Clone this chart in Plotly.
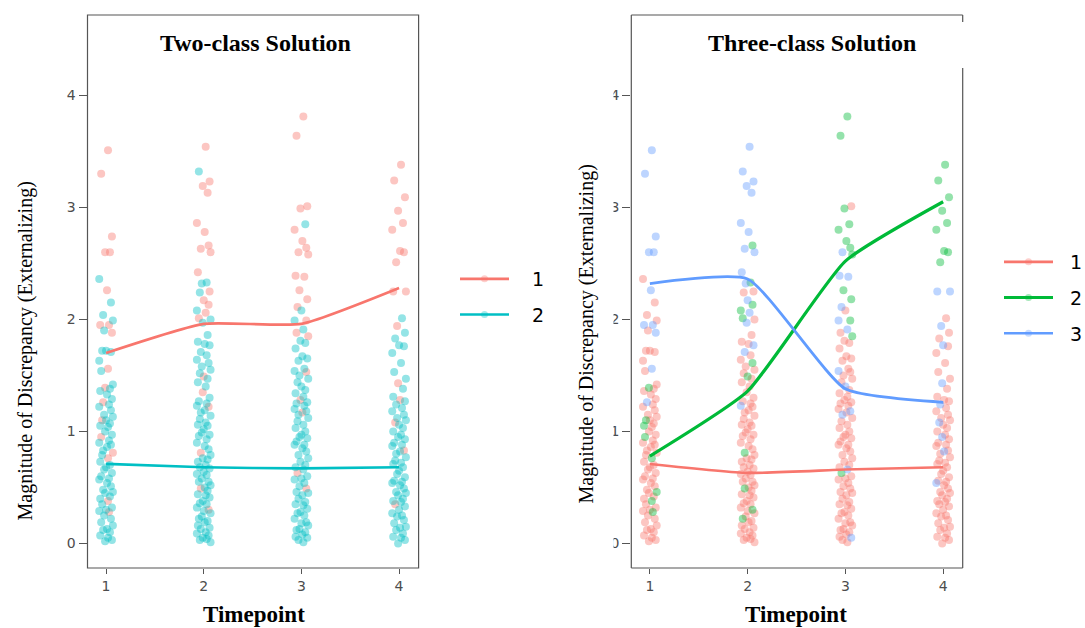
import plotly.graph_objects as go

W, H = 1085, 628

# ---------------- data ----------------
TIMEPOINTS = [1, 2, 3, 4]
Y_TICKS = [0, 1, 2, 3, 4]
Y_TICK_LABELS = ["0", "1", "2", "3", "4"]
X_TICK_LABELS = ["1", "2", "3", "4"]

# individual observations per timepoint: (discrepancy, class in 2-class solution, class in 3-class solution)
T1 = [(3.51,1,3),(3.30,1,3),(2.74,1,3),(2.60,1,3),(2.60,1,3),(2.36,2,1),(2.26,1,3),(2.15,2,1),(2.04,2,1),(1.99,2,1),
      (1.95,1,3),(1.95,1,3),(1.90,2,1),(1.88,1,3),(1.72,2,1),(1.72,2,1),(1.71,2,1),(1.63,2,1),(1.56,1,3),(1.54,2,1),
      (1.42,2,1),(1.39,1,2),(1.38,2,1),(1.36,2,1),(1.33,2,1),(1.29,2,1),(1.26,1,3),(1.24,2,1),(1.22,2,1),(1.19,2,1),
      (1.15,2,1),(1.13,2,1),(1.10,1,2),(1.10,2,1),(1.07,2,1),(1.05,2,2),(1.04,2,1),(1.00,2,1),(0.97,2,1),(0.95,1,2),
      (0.92,2,1),(0.90,2,1),(0.88,2,1),(0.86,2,1),(0.83,2,1),(0.81,1,1),(0.79,2,1),(0.76,1,2),(0.73,2,1),(0.70,2,1),
      (0.68,2,1),(0.66,2,1),(0.63,2,1),(0.60,2,1),(0.58,2,1),(0.57,2,1),(0.54,2,1),(0.51,2,1),(0.48,2,1),(0.46,2,2),
      (0.45,2,1),(0.42,2,1),(0.40,2,1),(0.38,1,2),(0.35,2,1),(0.32,2,1),(0.30,2,1),(0.29,2,1),(0.28,1,2),(0.25,2,1),
      (0.22,2,1),(0.19,2,1),(0.16,2,1),(0.13,2,1),(0.12,2,1),(0.10,2,1),(0.07,2,1),(0.05,2,1),(0.03,2,1),(0.02,2,1)]
T2 = [(3.54,1,3),(3.32,2,3),(3.23,1,3),(3.19,1,3),(3.13,1,3),(2.86,1,3),(2.78,1,3),(2.66,1,2),(2.63,1,3),(2.60,1,3),
      (2.42,1,3),(2.33,2,2),(2.32,2,3),(2.25,1,1),(2.24,2,1),(2.17,1,3),(2.13,1,2),(2.08,2,2),(2.06,1,3),(2.01,1,2),
      (2.00,2,1),(1.97,2,3),(1.86,2,1),(1.80,2,1),(1.78,2,1),(1.77,2,3),(1.71,2,3),(1.68,2,1),(1.64,2,1),(1.61,2,2),
      (1.58,2,1),(1.55,2,1),(1.52,2,1),(1.49,1,2),(1.47,2,1),(1.44,2,1),(1.40,2,1),(1.35,1,1),(1.30,2,1),(1.27,2,1),
      (1.25,2,1),(1.23,2,3),(1.22,1,1),(1.19,2,1),(1.17,2,1),(1.14,2,1),(1.11,2,1),(1.08,2,1),(1.06,2,1),(1.05,2,1),
      (1.02,2,1),(0.99,2,1),(0.97,2,1),(0.96,2,1),(0.93,2,1),(0.90,2,1),(0.87,2,1),(0.84,2,1),(0.81,1,2),(0.79,2,1),
      (0.76,2,1),(0.75,2,1),(0.73,2,1),(0.70,2,1),(0.68,2,1),(0.67,2,1),(0.64,2,1),(0.62,2,1),(0.61,2,1),(0.58,2,1),
      (0.55,2,1),(0.55,2,1),(0.52,2,1),(0.50,2,1),(0.49,1,2),(0.47,2,1),(0.44,2,1),(0.43,2,1),(0.41,2,1),(0.38,2,1),
      (0.36,2,1),(0.35,2,1),(0.32,2,1),(0.30,1,2),(0.29,2,1),(0.27,2,1),(0.24,2,1),(0.22,2,2),(0.20,2,1),(0.19,2,1),
      (0.16,2,1),(0.14,2,1),(0.13,2,1),(0.10,2,1),(0.09,2,1),(0.07,2,1),(0.05,2,1),(0.04,2,1),(0.03,2,1),(0.01,2,1)]
T3 = [(3.81,1,2),(3.64,1,2),(3.01,1,1),(2.99,1,2),(2.85,2,2),(2.80,1,2),(2.70,1,2),(2.64,1,2),(2.60,1,3),(2.58,1,2),
      (2.39,1,3),(2.38,1,3),(2.26,1,2),(2.18,1,2),(2.11,1,3),(2.08,2,1),(1.99,1,2),(1.99,2,3),(1.91,2,3),(1.88,1,1),
      (1.85,1,2),(1.81,2,1),(1.79,2,1),(1.74,2,1),(1.67,2,1),(1.65,2,1),(1.63,2,1),(1.56,2,1),(1.54,2,3),(1.53,1,1),
      (1.50,2,1),(1.47,2,1),(1.44,2,1),(1.40,2,3),(1.37,2,1),(1.34,2,1),(1.31,2,1),(1.28,1,1),(1.26,2,1),(1.25,2,1),
      (1.23,2,1),(1.20,2,1),(1.18,2,3),(1.17,1,1),(1.15,2,3),(1.12,2,1),(1.09,2,1),(1.06,2,1),(1.03,2,1),(1.00,2,1),
      (0.97,2,1),(0.95,2,1),(0.94,2,1),(0.91,2,1),(0.88,2,1),(0.88,2,1),(0.85,2,1),(0.82,2,1),(0.79,2,1),(0.76,2,1),
      (0.73,2,1),(0.70,2,1),(0.68,2,1),(0.66,2,3),(0.63,1,2),(0.60,2,1),(0.58,2,1),(0.57,2,1),(0.54,2,1),(0.51,2,1),
      (0.49,1,1),(0.46,2,1),(0.45,2,1),(0.43,2,1),(0.40,2,1),(0.37,2,1),(0.35,2,1),(0.34,2,1),(0.31,2,1),(0.28,2,1),
      (0.27,2,1),(0.25,2,1),(0.22,2,1),(0.19,2,1),(0.18,2,1),(0.16,2,1),(0.13,2,1),(0.12,2,1),(0.10,2,1),(0.08,2,1),
      (0.06,2,1),(0.05,2,3),(0.03,2,1),(0.01,2,1)]
T4 = [(3.38,1,2),(3.24,1,2),(3.09,1,2),(2.97,1,2),(2.86,1,2),(2.80,1,2),(2.61,1,2),(2.60,1,2),(2.51,1,2),(2.25,1,3),
      (2.25,1,3),(2.01,2,1),(1.94,1,3),(1.88,2,1),(1.83,2,1),(1.77,2,3),(1.76,2,1),(1.70,2,1),(1.61,2,1),(1.53,2,1),
      (1.47,2,1),(1.43,1,3),(1.38,2,1),(1.31,2,1),(1.28,1,1),(1.27,2,1),(1.24,2,3),(1.21,2,1),(1.18,2,1),(1.15,2,1),
      (1.12,2,1),(1.10,2,1),(1.08,1,3),(1.06,2,1),(1.03,2,1),(1.00,2,1),(0.97,2,1),(0.95,2,3),(0.93,2,1),(0.90,2,1),
      (0.88,2,1),(0.87,2,1),(0.83,1,1),(0.82,2,3),(0.80,2,1),(0.77,2,1),(0.74,2,1),(0.72,2,1),(0.71,2,1),(0.68,2,1),
      (0.65,2,1),(0.62,2,1),(0.59,2,1),(0.56,2,1),(0.55,2,1),(0.54,2,3),(0.52,2,1),(0.49,2,1),(0.46,2,1),(0.45,2,1),
      (0.43,2,1),(0.40,2,1),(0.38,2,1),(0.37,2,1),(0.35,1,1),(0.33,2,1),(0.30,2,1),(0.27,2,1),(0.25,2,1),(0.24,2,1),
      (0.21,2,1),(0.18,2,1),(0.15,2,1),(0.14,2,1),(0.12,2,1),(0.09,2,1),(0.06,2,1),(0.05,2,1),(0.03,2,1),(0.00,2,1)]
OBS = [T1, T2, T3, T4]

# horizontal jitter (timepoint units)
JITTER = [0.02,-0.05,0.06,-0.01,0.04,-0.07,0.01,0.05,-0.03,0.07,-0.06,0.03,-0.02,0.06,-0.04,0.00,0.05,-0.07,0.02,-0.05,
          0.07,-0.01,0.04,-0.06,0.01,0.06,-0.03,0.03,-0.07,0.05,-0.02,0.07,-0.04,0.00,0.04,-0.06,0.02,-0.01,0.06,-0.05,
          0.03,-0.07,0.05,0.01,-0.03,0.07,-0.04,0.02,-0.06,0.04,0.00,-0.02,0.06,-0.05,0.03,-0.07,0.01,0.05,-0.03,0.07,
          -0.01,0.04,-0.06,0.02,-0.04,0.06,0.00,-0.07,0.03,-0.02,0.05,-0.05,0.07,0.01,-0.03,0.04,-0.06,0.02,0.06,-0.01,
          -0.04,0.03,-0.07,0.05,0.00,0.07,-0.02,-0.05,0.04,0.01,-0.06,0.06,-0.03,0.02,-0.07,0.05,-0.01,0.03,-0.04,0.07]

# class trajectories (means per timepoint)
TWO_CLASS_1 = [1.70, 1.96, 1.96, 2.28]
TWO_CLASS_2 = [0.71, 0.68, 0.67, 0.68]
THREE_CLASS_1 = [0.71, 0.63, 0.66, 0.68]
THREE_CLASS_2 = [0.78, 1.36, 2.52, 3.05]
THREE_CLASS_3 = [2.32, 2.36, 1.38, 1.26]

CLASS_NAMES_2 = ["1", "2"]
CLASS_NAMES_3 = ["1", "2", "3"]

# ---------------- styling ----------------
COL2 = {1: "#F8766D", 2: "#00BFC4"}
COL3 = {1: "#F8766D", 2: "#00BA38", 3: "#619CFF"}
PT_ALPHA = 0.42
PT_SIZE = 8
SMOOTH = 0.5


def rgba(hexc, a):
    h = hexc.lstrip("#")
    return "rgba(%d,%d,%d,%.2f)" % (int(h[0:2], 16), int(h[2:4], 16), int(h[4:6], 16), a)


def points_for(cls_index, cls):
    xs, ys = [], []
    for t, obs in zip(TIMEPOINTS, OBS):
        for i, row in enumerate(obs):
            if row[cls_index] == cls:
                xs.append(t + JITTER[i % len(JITTER)])
                ys.append(row[0])
    return xs, ys


fig = go.Figure()

# left panel points
for cls in (1, 2):
    xs, ys = points_for(1, cls)
    fig.add_trace(go.Scatter(x=xs, y=ys, mode="markers", xaxis="x", yaxis="y", showlegend=False,
                             marker=dict(size=PT_SIZE, color=rgba(COL2[cls], PT_ALPHA), line=dict(width=0)),
                             hoverinfo="skip"))
# right panel points
for cls in (1, 2, 3):
    xs, ys = points_for(2, cls)
    fig.add_trace(go.Scatter(x=xs, y=ys, mode="markers", xaxis="x2", yaxis="y2", showlegend=False,
                             marker=dict(size=PT_SIZE, color=rgba(COL3[cls], PT_ALPHA), line=dict(width=0)),
                             hoverinfo="skip"))

# trajectories
for vals, cls in ((TWO_CLASS_1, 1), (TWO_CLASS_2, 2)):
    fig.add_trace(go.Scatter(x=TIMEPOINTS, y=vals, mode="lines", xaxis="x", yaxis="y", showlegend=False,
                             line=dict(color=COL2[cls], width=2.6, shape="spline", smoothing=SMOOTH)))
for vals, cls, w in ((THREE_CLASS_1, 1, 2.6), (THREE_CLASS_2, 2, 3.2), (THREE_CLASS_3, 3, 2.8)):
    fig.add_trace(go.Scatter(x=TIMEPOINTS, y=vals, mode="lines", xaxis="x2", yaxis="y2", showlegend=False,
                             line=dict(color=COL3[cls], width=w, shape="spline", smoothing=SMOOTH)))

# legend entries (names padded with no-break spaces to widen the key-to-label gap)
PAD_L = "\u00a0\u00a0\u00a0"
PAD_R = "\u00a0\u00a0"
for cls, name in zip((1, 2), CLASS_NAMES_2):
    fig.add_trace(go.Scatter(x=[None], y=[None], mode="lines+markers", name=PAD_L + name, legend="legend",
                             legendgroup="a%d" % cls, xaxis="x", yaxis="y",
                             line=dict(color=COL2[cls], width=2.6),
                             marker=dict(size=7, color=rgba(COL2[cls], 0.35))))
for cls, name in zip((1, 2, 3), CLASS_NAMES_3):
    fig.add_trace(go.Scatter(x=[None], y=[None], mode="lines+markers", name=PAD_R + name, legend="legend2",
                             legendgroup="b%d" % cls, xaxis="x2", yaxis="y2",
                             line=dict(color=COL3[cls], width=3.0 if cls == 2 else 2.6),
                             marker=dict(size=7, color=rgba(COL3[cls], 0.35))))


def px_x(p):
    return p / W


def px_y(p):
    return 1 - p / H


L_DOM = [px_x(87.5), px_x(418.6)]
R_DOM = [px_x(631.3), px_x(962.7)]
Y_DOM = [px_y(568), px_y(15)]
X_RANGE = [0.81, 4.2]
Y_RANGE = [-0.219, 4.717]

tickfont = dict(family="DejaVu Sans", size=14, color="#4d4d4d")
xa = dict(range=X_RANGE, tickvals=TIMEPOINTS, ticktext=X_TICK_LABELS, showgrid=False, zeroline=False,
          showline=False, ticks="outside", ticklen=5, tickwidth=1.1, tickcolor="#555555", tickfont=tickfont)
ya = dict(range=Y_RANGE, tickvals=Y_TICKS, ticktext=Y_TICK_LABELS, showgrid=False, zeroline=False,
          showline=False, ticks="outside", ticklen=8, tickwidth=1.1, tickcolor="#555555", tickfont=tickfont)

fig.update_layout(
    width=W, height=H, autosize=False,
    margin=dict(l=0, r=0, t=0, b=0, autoexpand=False),
    paper_bgcolor="white", plot_bgcolor="white",
    xaxis=dict(domain=L_DOM, anchor="y", **xa),
    yaxis=dict(domain=Y_DOM, anchor="x", **ya),
    xaxis2=dict(domain=R_DOM, anchor="y2", **xa),
    yaxis2=dict(domain=Y_DOM, anchor="x2", **ya),
    legend=dict(x=px_x(455), y=px_y(260), xanchor="left", yanchor="top",
                font=dict(family="DejaVu Sans", size=19, color="black"),
                itemwidth=49, tracegroupgap=8, traceorder="grouped", bgcolor="rgba(0,0,0,0)"),
    legend2=dict(x=px_x(999), y=px_y(243), xanchor="left", yanchor="top",
                 font=dict(family="DejaVu Sans", size=19, color="black"),
                 itemwidth=49, tracegroupgap=8, traceorder="grouped", bgcolor="rgba(0,0,0,0)"),
)

border = dict(color="#555555", width=1.2)
shapes = []
# left panel frame
shapes.append(dict(type="rect", xref="x domain", yref="y domain", x0=0, x1=1, y0=0, y1=1, line=border, layer="above"))
# right panel frame (right edge partly missing at the top as in the original)
for (x0, y0, x1, y1) in ((0, 0, 0, 1), (0, 0, 1, 0), (0, 1, 1, 1), (1, 0, 1, 500 / 553), (1, 1, 1, 546 / 553)):
    shapes.append(dict(type="line", xref="x2 domain", yref="y2 domain", x0=x0, y0=y0, x1=x1, y1=y1,
                       line=border, layer="above"))
# the right panel's tick labels are cut off in the original
shapes.append(dict(type="rect", xref="paper", yref="paper", x0=px_x(599), x1=px_x(613.5),
                   y0=px_y(560), y1=px_y(80), fillcolor="white", line=dict(width=0), layer="above"))
fig.update_layout(shapes=shapes)

serif = "Liberation Serif"
ann = []
ann.append(dict(text="<b>Two-class Solution</b>", x=px_x(255), y=px_y(43), xref="paper", yref="paper",
                showarrow=False, font=dict(family=serif, size=24, color="black"), xanchor="center", yanchor="middle"))
ann.append(dict(text="<b>Three-class Solution</b>", x=px_x(812), y=px_y(43), xref="paper", yref="paper",
                showarrow=False, font=dict(family=serif, size=24, color="black"), xanchor="center", yanchor="middle"))
for cx in (254, 796):
    ann.append(dict(text="<b>Timepoint</b>", x=px_x(cx), y=px_y(614), xref="paper", yref="paper",
                    showarrow=False, font=dict(family=serif, size=23, color="black"),
                    xanchor="center", yanchor="middle"))
for cx, cy in ((24.5, 351), (586, 334.5)):
    ann.append(dict(text="Magnitude of Discrepancy (Externalizing)", x=px_x(cx), y=px_y(cy), xref="paper",
                    yref="paper", showarrow=False, textangle=-90,
                    font=dict(family=serif, size=20, color="black"), xanchor="center", yanchor="middle"))
fig.update_layout(annotations=ann)

fig.write_html("out.html", config={"displayModeBar": False},
               post_script="document.body.style.margin='0px';")
